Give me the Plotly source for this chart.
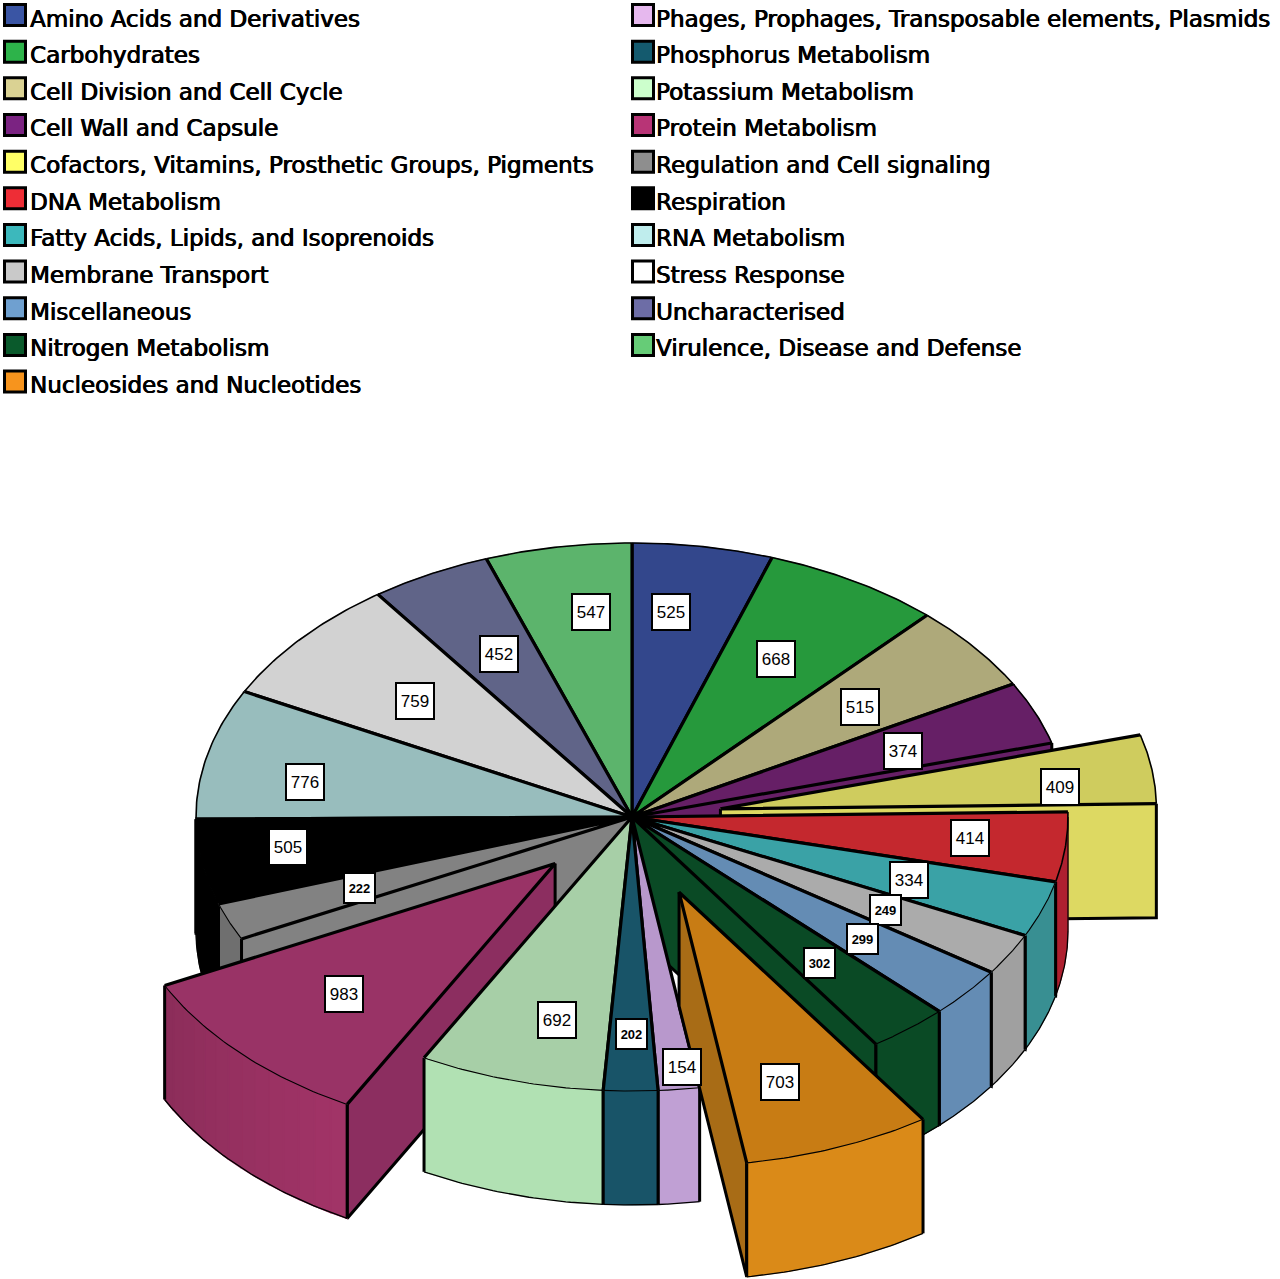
import math
import plotly.graph_objects as go

CATEGORIES = ["Amino Acids and Derivatives", "Carbohydrates", "Cell Division and Cell Cycle",
              "Cell Wall and Capsule", "Cofactors, Vitamins, Prosthetic Groups, Pigments",
              "DNA Metabolism", "Fatty Acids, Lipids, and Isoprenoids", "Membrane Transport",
              "Miscellaneous", "Nitrogen Metabolism", "Nucleosides and Nucleotides",
              "Phages, Prophages, Transposable elements, Plasmids", "Phosphorus Metabolism",
              "Potassium Metabolism", "Protein Metabolism", "Regulation and Cell signaling",
              "Respiration", "RNA Metabolism", "Stress Response", "Uncharacterised",
              "Virulence, Disease and Defense"]
VALUES = [525, 668, 515, 374, 409, 414, 334, 249, 299, 302, 703, 154, 202, 692, 983, 222, 505, 776, 759, 452, 547]

# styles
EXPLODE = {4: 0.205, 10: 0.295, 14: 0.245}
LEGEND_COLORS = ["#3A55A4", "#2DB34A", "#DAD293", "#7B2382", "#FFFF66", "#EE2D36", "#3CB8BC", "#C9C9C9",
                 "#6FA0D0", "#0A5A2C", "#F7941D", "#E6B8EE", "#145A6E", "#CCFFCC", "#B83476", "#8E8E8E",
                 "#000000", "#BFEDED", "#FFFFFF", "#6D6DA6", "#66CC77"]
TOP_COLORS = ["#33478C", "#26993C", "#AEA97A", "#661F66", "#CFCC5E", "#C4282E", "#3AA2A6", "#ABABAB",
              "#648CB4", "#0A4A25", "#C87C14", "#B898CC", "#185468", "#A7CFA7", "#993366", "#828282",
              "#000000", "#98BDBD", "#D2D2D2", "#606488", "#5CB46C"]
WALL_COLORS = ["#33478C", "#26993C", "#AEA97A", "#661F66", "#DDD962", "#AE2030", "#388F92", "#A0A0A0",
               "#648CB4", "#0A4A25", "#DA8A18", "#C0A0D4", "#185468", "#B1E1B3", "#A23468", "#6F6F6F",
               "#000000", "#98BDBD", "#D2D2D2", "#606488", "#5CB46C"]
RADIAL_COLORS = ["#33478C", "#26993C", "#AEA97A", "#661F66", "#DDD962", "#AE2030", "#388F92", "#A0A0A0",
                 "#648CB4", "#0A4A25", "#A86C16", "#B898CC", "#185468", "#A7CFA7", "#8C2E60", "#828282",
                 "#000000", "#98BDBD", "#D2D2D2", "#606488", "#5CB46C"]
WALL_SHADE = {14: (1.0, 0.86)}
LABEL_NUDGE = [(-7, -29), (-1, -5), (5, 0), (9, 2), (59, 4), (56, 1), (10, 3), (8, 4), (13, 8), (8, 8), (-3, 24),
               (20, 73), (0, 39), (4, 32), (-7, 7), (-11, 3), (-64, 1), (-51, 6), (-2, 0), (-2, -5), (7, -29)]
SMALL_LABELS = {7, 8, 9, 12, 15}
DRAW_ORDER = [0, 1, 2, 3, 4, 5, 6, 7, 8, 9, 20, 19, 18, 17, 16, 15, 14, 13, 11, 12, 10]

CX, CY, RX, RY, DEPTH = 632, 817, 436, 274, 114
LABEL_F = 0.65
FONT_LEGEND = "DejaVu Sans"
FONT_LABEL = "Liberation Sans"


def shade(hex_color, k):
    r, g, b = (int(hex_color[i:i + 2], 16) for i in (1, 3, 5))
    return "#%02X%02X%02X" % tuple(min(255, max(0, round(c * k))) for c in (r, g, b))


def pt(t, k=1.0, off=(0, 0), dz=0):
    a = math.radians(t)
    return CX + off[0] + k * RX * math.sin(a), CY + off[1] - k * RY * math.cos(a) + dz


fig = go.Figure()


def poly(points, color, width=0.8):
    xs = [p[0] for p in points] + [points[0][0]]
    ys = [p[1] for p in points] + [points[0][1]]
    fig.add_trace(go.Scatter(x=xs, y=ys, mode="lines", fill="toself", fillcolor=color,
                             line=dict(color=color, width=width),
                             hoverinfo="skip", showlegend=False))


def stroke(points, width, color="#000000"):
    fig.add_trace(go.Scatter(x=[p[0] for p in points], y=[p[1] for p in points], mode="lines",
                             line=dict(color=color, width=width), hoverinfo="skip", showlegend=False))


total = sum(VALUES)
starts, ends = [], []
acc = 0
for v in VALUES:
    starts.append(acc / total * 360)
    acc += v
    ends.append(acc / total * 360)

annots = []
for i in DRAW_ORDER:
    s, e = starts[i], ends[i]
    m = (s + e) / 2
    ex = EXPLODE.get(i, 0)
    off = (ex * RX * math.sin(math.radians(m)), -ex * RY * math.cos(math.radians(m)))
    apex = pt(0, 0, off)

    # radial side walls exposed towards the viewer
    for t, visible in ((e, e < 180), (s, s > 180)):
        if visible:
            o = pt(t, 1, off)
            o2 = pt(t, 1, off, DEPTH)
            a2 = pt(0, 0, off, DEPTH)
            poly([apex, o, o2, a2], RADIAL_COLORS[i])
            stroke([apex, a2, o2, o], 3)

    # outer curved wall
    w0, w1 = max(s, 90), min(e, 270)
    if w1 > w0:
        ts = [w0 + (w1 - w0) * j / 40 for j in range(41)]
        if i in WALL_SHADE:
            ks, ke = WALL_SHADE[i]
            n = 14
            for j in range(n):
                ta = w0 + (w1 - w0) * j / n
                tb = w0 + (w1 - w0) * (j + 1) / n
                c = shade(WALL_COLORS[i], ks + (ke - ks) * (j + 0.5) / n)
                mids = [ta + (tb - ta) * q / 4 for q in range(5)]
                poly([pt(t, 1, off) for t in mids] + [pt(t, 1, off, DEPTH) for t in reversed(mids)], c, 1.6)
        else:
            poly([pt(t, 1, off) for t in ts] + [pt(t, 1, off, DEPTH) for t in reversed(ts)], WALL_COLORS[i])
        stroke([pt(t, 1, off, DEPTH) for t in ts], 1.3, "#000000")
        for t, boundary in ((w0, w0 == s), (w1, w1 == e)):
            stroke([pt(t, 1, off), pt(t, 1, off, DEPTH)], 3 if boundary and VALUES[i] != 505 else 1.2)

    # top face
    arc = [pt(s + (e - s) * j / 40, 1, off) for j in range(41)]
    poly([apex] + arc, TOP_COLORS[i])
    front = s >= 90 and e <= 270
    stroke(arc, 1.1 if front else 1.6, "#000000")
    stroke([arc[0], apex, arc[-1]], 3.2)

    # value label
    lx, ly = pt(m, LABEL_F + ex)
    small = i in SMALL_LABELS
    annots.append(dict(x=lx + LABEL_NUDGE[i][0], y=ly + LABEL_NUDGE[i][1], text=str(VALUES[i]), showarrow=False,
                       font=dict(family=FONT_LABEL, size=13 if small else 17, color="#000000",
                                 weight="bold" if small else "normal"),
                       bgcolor="#FFFFFF", bordercolor="#000000", borderwidth=2, borderpad=0,
                       width=29 if small else 36, height=28 if small else 34,
                       xanchor="center", yanchor="middle", align="center", valign="middle"))

# legend
ROW_H = 36.66
for i, name in enumerate(CATEGORIES):
    col = 0 if i < 11 else 1
    row = i if i < 11 else i - 11
    sx = 15 if col == 0 else 643
    sy = 15 + ROW_H * row
    fig.add_trace(go.Scatter(x=[sx], y=[sy], mode="markers", name=name,
                             marker=dict(symbol="square", size=21, color=LEGEND_COLORS[i],
                                         line=dict(color="#000000", width=3)),
                             hoverinfo="skip", showlegend=False))
    annots.append(dict(x=28 if col == 0 else 654, y=18.5 + ROW_H * row, text=name, showarrow=False,
                       xanchor="left", yanchor="middle",
                       font=dict(family=FONT_LEGEND, size=23, color="#000000",
                                 shadow="0.6px 0 0 #000, -0.3px 0 0 #000")))

fig.update_layout(width=1280, height=1279, margin=dict(l=0, r=0, t=0, b=0),
                  paper_bgcolor="#FFFFFF", plot_bgcolor="#FFFFFF", showlegend=False,
                  xaxis=dict(range=[0, 1280], visible=False, fixedrange=True),
                  yaxis=dict(range=[1279, 0], visible=False, fixedrange=True),
                  annotations=annots)
fig.write_html("out.html", config=dict(displayModeBar=False),
               post_script="document.body.style.margin='0';document.body.style.overflow='hidden';")
